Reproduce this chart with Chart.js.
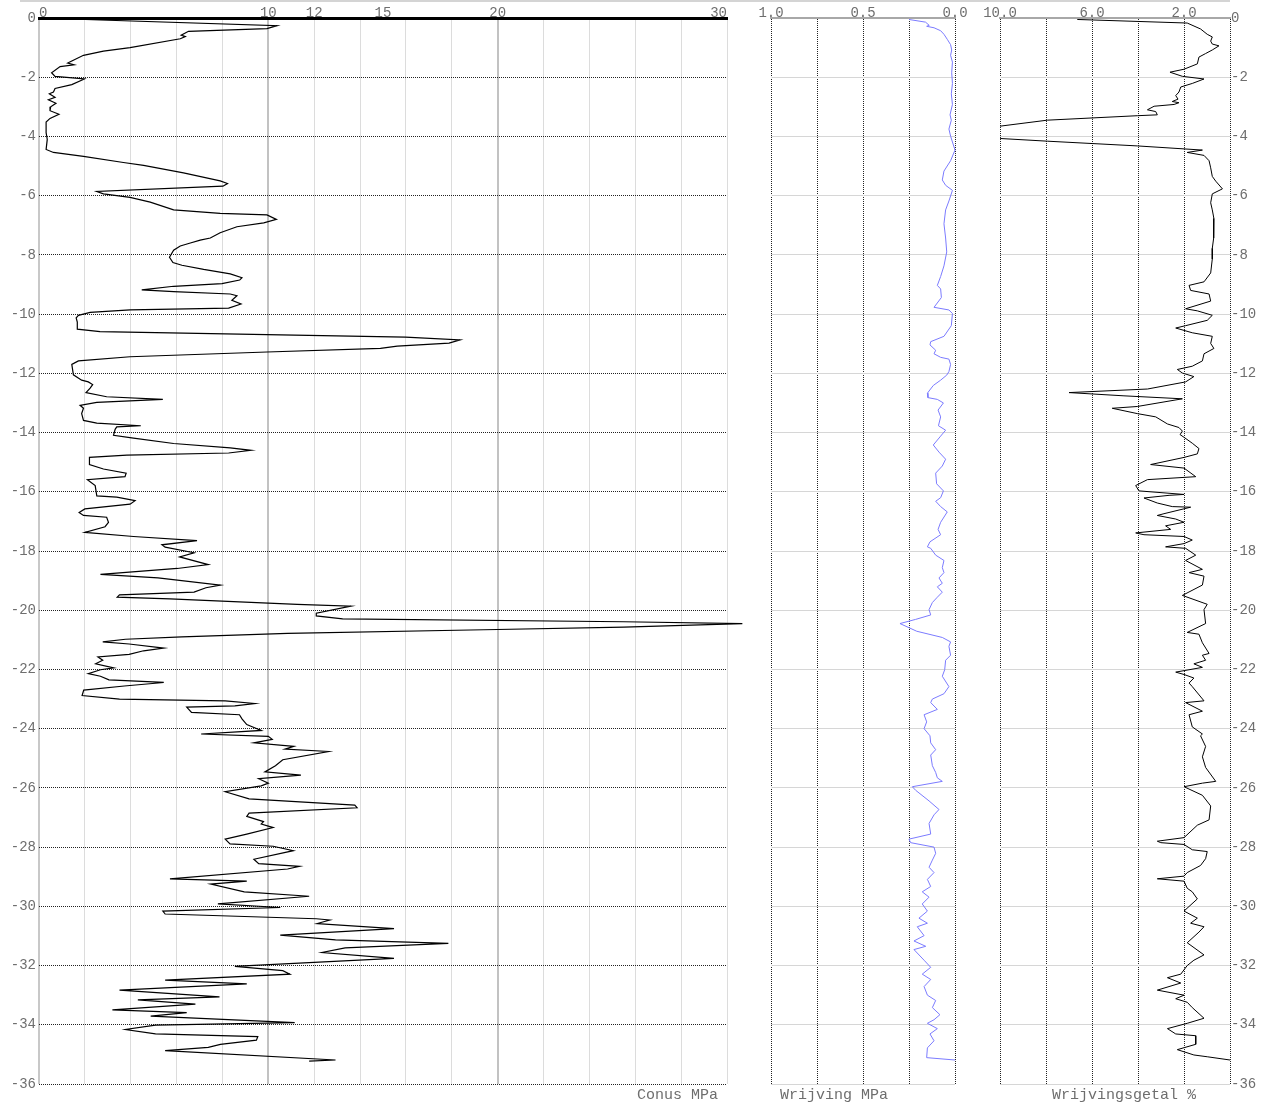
<!DOCTYPE html>
<html>
<head>
<meta charset="utf-8">
<title>Sondering</title>
<script src="https://cdn.jsdelivr.net/npm/chart.js@4.4.1/dist/chart.umd.min.js"></script>
<style>
    body { margin: 0; background: #fff; }
    #wrap { position: relative; width: 1268px; height: 1104px; }
    #wrap canvas { position: absolute; left: 0; top: 0; }
    #topline { position: absolute; left: 20px; top: 0; width: 1210px; border-top: 2px solid #d4d4d4; }
</style>
</head>
<body>
<div id="wrap">
    <div id="topline"></div>
    <canvas id="conus" width="1268" height="1104"></canvas>
    <canvas id="wrijving" width="1268" height="1104"></canvas>
    <canvas id="getal" width="1268" height="1104"></canvas>
</div>
<script>
// Depth ticks (m below surface, drawn downwards)
const depthTicks = [0, -2, -4, -6, -8, -10, -12, -14, -16, -18, -20, -22, -24, -26, -28, -30, -32, -34, -36];

// Conus (cone resistance, MPa)
const conusGrid = [0, 2, 4, 6, 8, 10, 12, 14, 15, 16, 18, 20, 22, 24, 26, 28, 30];
const conusLabels = [0, 10, 12, 15, 20, 30];
const conusDepth = [
    0, 0.26, 0.36, 0.45, 0.58, 0.63, 0.70, 1.0, 1.12, 1.26, 1.45, 1.52, 1.58, 1.64, 1.85, 1.97,
    2.06, 2.25, 2.38, 2.5, 2.56, 2.68, 2.76, 2.88, 3.0, 3.13, 3.25, 3.39, 3.51, 3.87, 4.1, 4.44,
    4.54, 4.67, 4.88, 4.98, 5.23, 5.5, 5.59, 5.68, 5.86, 5.94, 6.06, 6.22, 6.48, 6.6, 6.65, 6.8,
    6.92, 7.05, 7.25, 7.43, 7.5, 7.6, 7.7, 7.84, 8.08, 8.26, 8.35, 8.49, 8.64, 8.77, 8.85, 8.97,
    9.06, 9.18, 9.24, 9.32, 9.38, 9.53, 9.66, 9.80, 9.86, 9.94, 10.04, 10.13, 10.27, 10.51, 10.59, 10.69,
    10.78, 10.87, 10.98, 11.08, 11.16, 11.28, 11.44, 11.58, 11.70, 12.05, 12.23, 12.29, 12.38, 12.5, 12.65, 12.79,
    12.88, 12.98, 13.08, 13.18, 13.36, 13.59, 13.68, 13.77, 13.81, 13.89, 14.09, 14.19, 14.37, 14.52, 14.6, 14.69,
    14.76, 14.84, 15.08, 15.23, 15.37, 15.49, 15.59, 15.79, 16.14, 16.18, 16.30, 16.42, 16.58, 16.70, 16.8, 16.86,
    17.03, 17.18, 17.37, 17.51, 17.65, 17.79, 17.87, 18.06, 18.2, 18.46, 18.59, 18.79, 18.91, 19.15, 19.24, 19.39,
    19.48, 19.56, 19.62, 19.8, 19.86, 20.1, 20.19, 20.29, 20.39, 20.45, 20.57, 20.66, 20.78, 20.9, 20.98, 21.07,
    21.14, 21.28, 21.37, 21.49, 21.58, 21.69, 21.81, 21.95, 22.01, 22.14, 22.23, 22.35, 22.44, 22.56, 22.7, 22.88,
    23.0, 23.06, 23.15, 23.23, 23.27, 23.45, 23.53, 23.67, 23.86, 24.06, 24.18, 24.26, 24.36, 24.48, 24.6, 24.69,
    24.77, 25.05, 25.25, 25.46, 25.57, 25.69, 25.84, 25.93, 26.13, 26.37, 26.58, 26.67, 26.85, 26.96, 27.14, 27.22,
    27.34, 27.56, 27.73, 27.89, 27.97, 28.12, 28.41, 28.56, 28.65, 28.74, 29.07, 29.15, 29.25, 29.51, 29.66, 29.92,
    30.04, 30.16, 30.26, 30.42, 30.46, 30.58, 30.75, 30.97, 31.13, 31.25, 31.4, 31.56, 31.76, 32.0, 32.03, 32.17,
    32.29, 32.49, 32.62, 32.83, 33.06, 33.16, 33.3, 33.5, 33.59, 33.71, 33.93, 34.01, 34.16, 34.31, 34.4, 34.52,
    34.66, 34.76, 34.87, 35.19, 35.23
];
const conusValue = [
    0, 10.38, 9.94, 6.52, 6.2, 6.38, 6.16, 3.97, 2.81, 1.94, 1.43, 1.25, 1.53, 0.92, 0.55, 0.70,
    1.98, 1.43, 0.70, 0.63, 0.45, 0.70, 0.41, 0.74, 0.51, 0.48, 0.87, 0.48, 0.31, 0.31, 0.36, 0.31,
    0.63, 1.94, 3.68, 4.56, 6.3, 7.9, 8.22, 8.02, 2.52, 2.81, 3.97, 4.85, 5.87, 7.9, 9.94, 10.35,
    9.8, 8.63, 7.9, 7.47, 7.03, 6.6, 6.16, 5.87, 5.69, 5.84, 6.23, 7.18, 8.34, 8.85, 8.75, 7.98,
    5.87, 4.48, 5.87, 8.34, 8.63, 8.41, 8.81, 8.27, 3.97, 2.23, 1.72, 1.62, 1.67, 1.67, 2.66, 9.94,
    15.98, 18.36, 17.88, 15.62, 14.89, 9.94, 3.97, 1.72, 1.43, 1.5, 1.86, 2.15, 2.34, 2.23, 2.05, 2.95,
    5.4, 2.52, 1.79, 1.94, 1.86, 1.94, 2.52, 4.44, 3.39, 3.32, 3.25, 4.12, 5.87, 8.34, 9.24, 8.27,
    3.83, 2.2, 2.2, 2.81, 3.8, 3.75, 2.11, 2.45, 2.52, 3.39, 4.19, 3.97, 2.0, 1.75, 1.94, 2.95,
    3.03, 2.88, 2.0, 4.12, 6.89, 5.36, 5.5, 6.76, 6.13, 7.38, 6.03, 2.68, 5.19, 7.91, 7.28, 6.76,
    3.51, 3.41, 5.71, 11.26, 13.6, 12.09, 12.09, 13.24, 25.5, 30.67, 25.5, 19.4, 10.84, 6.23, 3.77, 2.78,
    3.93, 5.44, 4.56, 3.93, 2.57, 2.78, 2.47, 3.26, 2.68, 2.15, 2.68, 3.05, 5.44, 3.72, 1.95, 1.88,
    3.51, 8.12, 9.41, 8.54, 6.44, 6.65, 8.74, 8.85, 9.06, 9.69, 7.07, 10.0, 10.17, 9.37, 11.11, 10.73,
    12.62, 10.63, 10.31, 9.85, 11.42, 9.58, 10.0, 9.69, 8.12, 9.16, 13.77, 13.87, 9.16, 9.06, 9.79, 9.69,
    10.21, 9.06, 8.12, 8.33, 10.21, 11.09, 9.37, 9.58, 11.36, 10.84, 5.71, 9.06, 7.49, 8.95, 11.78, 7.8,
    10.52, 5.4, 5.5, 12.09, 12.68, 12.13, 15.48, 10.52, 12.93, 17.85, 13.35, 12.34, 15.48, 9.16, 8.54, 10.63,
    10.94, 5.5, 9.06, 3.51, 7.87, 4.31, 6.82, 3.2, 6.44, 4.87, 11.15, 5.08, 3.77, 5.08, 9.54, 9.48,
    7.91, 7.38, 5.5, 12.93, 11.78
];

// Wrijving (sleeve friction, MPa)
const wrijvingGrid = [0, 0.25, 0.5, 0.75, 1.0];
const wrijvingLabels = [0, 0.5, 1.0];
const wrijvingDepth = [
    0.05, 0.14, 0.25, 0.28, 0.33, 0.43, 0.55, 0.72, 0.9, 1.08, 1.26, 1.49, 1.85, 2.21, 2.56, 2.92,
    3.27, 3.45, 3.75, 3.99, 4.46, 4.82, 5.17, 5.47, 5.65, 5.82, 6.18, 6.48, 6.95, 7.43, 7.9, 8.37,
    8.73, 9.03, 9.15, 9.44, 9.77, 9.86, 9.98, 10.39, 10.75, 10.93, 11.04, 11.22, 11.34, 11.46, 11.52, 11.7,
    11.94, 12.06, 12.23, 12.41, 12.67, 12.82, 12.88, 13.0, 13.24, 13.47, 13.77, 13.92, 14.12, 14.42, 14.66, 14.9,
    15.13, 15.37, 15.73, 15.97, 16.2, 16.32, 16.5, 16.68, 17.03, 17.27, 17.45, 17.69, 17.86, 17.91, 18.14, 18.32,
    18.56, 18.73, 18.91, 19.09, 19.21, 19.39, 19.56, 19.74, 19.98, 20.16, 20.31, 20.45, 20.71, 20.92, 21.07, 21.22,
    21.52, 21.69, 22.01, 22.23, 22.58, 22.82, 23.0, 23.12, 23.35, 23.53, 23.77, 24.0, 24.24, 24.48, 24.71, 24.89,
    25.25, 25.48, 25.66, 25.78, 25.96, 26.08, 26.44, 26.73, 26.91, 27.2, 27.56, 27.73, 27.85, 28.0, 28.21, 28.44,
    28.68, 28.86, 29.09, 29.33, 29.51, 29.69, 29.92, 30.16, 30.4, 30.57, 30.69, 30.99, 31.17, 31.35, 31.46, 31.82,
    32.06, 32.29, 32.47, 32.71, 33.0, 33.18, 33.42, 33.66, 33.83, 33.95, 34.13, 34.31, 34.54, 34.78, 35.11, 35.19
];
const wrijvingValue = [
    0.25, 0.16, 0.14, 0.154, 0.114, 0.078, 0.06, 0.042, 0.024, 0.018, 0.024, 0.014, 0.018, 0.014, 0.02, 0.014,
    0.027, 0.02, 0.033, 0.024, 0.0, 0.024, 0.06, 0.069, 0.051, 0.014, 0.033, 0.051, 0.06, 0.051, 0.045, 0.06,
    0.078, 0.096, 0.078, 0.074, 0.114, 0.033, 0.014, 0.02, 0.06, 0.132, 0.136, 0.105, 0.114, 0.078, 0.033, 0.024,
    0.033, 0.045, 0.078, 0.118, 0.15, 0.147, 0.096, 0.063, 0.092, 0.078, 0.09, 0.051, 0.078, 0.118, 0.087, 0.051,
    0.069, 0.105, 0.1, 0.063, 0.078, 0.105, 0.078, 0.042, 0.078, 0.092, 0.078, 0.136, 0.15, 0.132, 0.105, 0.06,
    0.069, 0.06, 0.087, 0.069, 0.096, 0.069, 0.096, 0.123, 0.141, 0.132, 0.214, 0.299, 0.208, 0.069, 0.024, 0.033,
    0.024, 0.051, 0.056, 0.069, 0.033, 0.06, 0.123, 0.132, 0.096, 0.168, 0.154, 0.168, 0.136, 0.132, 0.105, 0.132,
    0.123, 0.105, 0.096, 0.069, 0.232, 0.214, 0.141, 0.087, 0.114, 0.141, 0.132, 0.25, 0.241, 0.114, 0.105, 0.123,
    0.141, 0.114, 0.15, 0.132, 0.178, 0.141, 0.178, 0.15, 0.196, 0.15, 0.205, 0.168, 0.223, 0.159, 0.223, 0.168,
    0.132, 0.178, 0.132, 0.168, 0.15, 0.105, 0.123, 0.082, 0.114, 0.15, 0.096, 0.136, 0.114, 0.15, 0.154, 0.0
];

// Wrijvingsgetal (friction ratio, %); near 3.9 m the value runs off the 10 % scale
const getalGrid = [0, 2, 4, 6, 8, 10];
const getalLabels = [2, 6, 10];
const getalDepth = [
    0.05, 0.17, 0.37, 0.55, 0.64, 0.78, 0.88, 0.94, 1.08, 1.2, 1.32, 1.55, 1.73, 1.83, 1.97, 2.06,
    2.21, 2.33, 2.5, 2.62, 2.74, 2.82, 2.86, 2.92, 2.98, 3.1, 3.16, 3.27, 3.3, 3.45, 3.65, 3.86, 4.07,
    4.16, 4.32, 4.46, 4.54, 4.64, 4.82, 5.06, 5.35, 5.51, 5.77, 5.94, 6.24, 6.48, 6.77, 7.07, 7.43,
    7.78, 8.14, 8.61, 8.91, 9.03, 9.2, 9.32, 9.56, 9.82, 9.89, 10.04, 10.21, 10.39, 10.47, 10.63, 10.75,
    10.99, 11.16, 11.34, 11.58, 11.76, 11.87, 11.99, 12.11, 12.29, 12.53, 12.65, 12.76, 12.86, 13.12, 13.18, 13.36,
    13.47, 13.71, 13.83, 13.95, 14.07, 14.16, 14.36, 14.54, 14.72, 14.84, 15.08, 15.2, 15.49, 15.59, 15.79, 15.97,
    16.09, 16.12, 16.21, 16.38, 16.5, 16.52, 16.74, 16.8, 16.92, 17.03, 17.15, 17.27, 17.39, 17.45, 17.51, 17.63,
    17.75, 17.86, 17.91, 18.14, 18.32, 18.62, 18.73, 18.85, 19.15, 19.5, 19.8, 19.98, 20.45, 20.75, 20.81, 21.1,
    21.46, 21.52, 21.69, 21.81, 21.93, 22.09, 22.17, 22.29, 22.46, 22.58, 23.06, 23.12, 23.41, 23.53, 23.94, 24.18,
    24.24, 24.6, 24.95, 25.31, 25.78, 25.84, 25.96, 26.25, 26.61, 27.08, 27.26, 27.68, 27.8, 27.85, 27.91, 28.09,
    28.15, 28.39, 28.62, 28.86, 28.98, 29.07, 29.15, 29.39, 29.51, 29.75, 30.16, 30.4, 30.57, 30.69, 30.87, 31.23,
    31.64, 31.82, 32.0, 32.29, 32.41, 32.59, 32.83, 33.0, 33.12, 33.24, 33.42, 33.78, 33.95, 34.13, 34.31, 34.37,
    34.66, 34.84, 35.02, 35.08, 35.19
];
const getalValue = [
    6.64, 1.86, 1.28, 0.99, 0.77, 0.84, 0.77, 0.48, 0.77, 1.06, 1.35, 1.42, 2.0, 2.61, 2.07, 1.13,
    1.64, 2.14, 2.22, 2.36, 2.26, 2.51, 2.22, 2.43, 3.3, 3.59, 3.23, 3.16, 4.03, 7.94, 9.97, 20.0, 9.97,
    7.94, 4.03, 1.2, 1.86, 1.13, 0.91, 0.84, 0.77, 0.62, 0.33, 0.77, 0.84, 0.77, 0.7, 0.72, 0.7,
    0.77, 0.77, 0.84, 1.13, 1.78, 1.71, 0.91, 0.84, 1.93, 1.42, 0.77, 0.99, 1.93, 2.36, 1.64, 0.77,
    0.84, 0.7, 1.13, 1.2, 1.64, 2.29, 2.07, 1.57, 1.93, 3.59, 7.0, 4.61, 2.07, 4.03, 5.12, 4.03,
    3.23, 2.72, 2.22, 2.07, 2.17, 2.0, 1.64, 1.35, 1.42, 2.0, 3.45, 2.0, 1.49, 3.59, 4.1, 3.96,
    2.0, 2.65, 3.74, 3.16, 2.51, 1.71, 2.87, 3.16, 2.36, 2.0, 2.8, 2.58, 4.1, 3.74, 2.0, 1.64,
    2.0, 2.8, 1.93, 1.49, 1.93, 1.2, 1.78, 1.13, 1.2, 2.07, 0.99, 1.13, 1.06, 1.86, 1.35, 1.2,
    0.91, 1.2, 1.06, 1.57, 1.2, 2.36, 2.0, 1.57, 1.78, 1.64, 1.13, 1.93, 1.2, 1.78, 1.64, 1.2,
    1.28, 1.06, 1.2, 1.06, 0.62, 1.2, 2.0, 1.2, 0.84, 0.91, 1.42, 2.0, 3.16, 3.01, 2.0, 1.64,
    0.99, 1.06, 1.28, 1.86, 2.0, 3.16, 2.0, 1.86, 1.64, 1.42, 2.0, 1.42, 1.71, 1.13, 1.35, 1.86,
    1.13, 1.57, 1.86, 2.14, 2.72, 2.14, 3.16, 2.0, 2.36, 1.86, 1.64, 1.13, 1.86, 2.72, 2.36, 1.49,
    1.49, 2.29, 1.57, 0.99, 0.0
];

const TICK_FONT = { family: "'Liberation Mono', 'DejaVu Sans Mono', monospace", size: 14 };
const TITLE_FONT = { family: "'Liberation Mono', 'DejaVu Sans Mono', monospace", size: 15 };
const TEXT_COLOR = '#6e6e6e';
const W = 1268;

// depth goes downwards, so plot it as negative y
function toPoints(depths, values) {
    return depths.map((d, i) => ({ x: values[i], y: -d }));
}

function fixWidth(w) { return scale => { scale.width = w; }; }
function fixHeight(h) { return scale => { scale.height = h; }; }
function useTicks(list) { return scale => { scale.ticks = list.map(v => ({ value: v })); }; }

// bottom axis that only carries the panel title
function titleAxis(text, align) {
    return {
        type: 'linear', position: 'bottom', min: 0, max: 1,
        afterFit: fixHeight(20),
        ticks: { display: false },
        grid: { display: false },
        border: { display: false },
        title: { display: true, text: text, align: align, font: TITLE_FONT, color: TEXT_COLOR, padding: { top: 0, bottom: 0 } }
    };
}

function topAxis(min, max, reverse, grid, labels, digits) {
    return {
        type: 'linear', position: 'top', min: min, max: max, reverse: reverse,
        afterBuildTicks: useTicks(grid),
        afterFit: fixHeight(18),
        ticks: {
            autoSkip: false, maxRotation: 0, padding: -4, font: TICK_FONT, color: TEXT_COLOR,
            callback: v => labels.includes(v) ? v.toFixed(digits) : ''
        },
        grid: { drawTicks: false, color: '#222', lineWidth: 1 },
        border: { display: true, color: '#a8a8a8', width: 2, dash: [1, 1] }
    };
}

function depthAxis(position, width, showLabels, gridColor, dash) {
    return {
        type: 'linear', position: position, min: -36, max: 0,
        afterBuildTicks: useTicks(depthTicks),
        afterFit: fixWidth(width),
        ticks: { display: showLabels, autoSkip: false, padding: position === 'left' ? 3 : 1, font: TICK_FONT, color: TEXT_COLOR },
        grid: { drawTicks: false, color: gridColor, lineWidth: 1 },
        border: { display: false, dash: dash }
    };
}

function profile(data, color, width, clip) {
    return {
        data: data, showLine: true, borderColor: color, borderWidth: width,
        pointRadius: 0, tension: 0, clip: clip
    };
}

const baseOptions = {
    responsive: false,
    animation: false,
    events: [],
    plugins: { legend: { display: false }, tooltip: { enabled: false } }
};

// Conus panel
const conusX = topAxis(0, 30, false, conusGrid, conusLabels, 0);
conusX.ticks.align = 'inner'; // keep the "0" clear of the depth label in the corner
conusX.grid = {
    drawTicks: false,
    color: c => {
        const v = c.tick.value;
        if (v === 15) return 'rgba(0,0,0,0)';
        if (v === 10 || v === 20) return '#c2c2c2';
        if (v === 0) return '#c8c8c8';
        return '#dcdcdc';
    },
    lineWidth: c => (c.tick.value === 10 || c.tick.value === 20 || c.tick.value === 0) ? 2 : 1
};
conusX.border = { display: true, color: '#000', width: 3 };

new Chart(document.getElementById('conus'), {
    type: 'scatter',
    data: { datasets: [profile(toPoints(conusDepth, conusValue), '#000', 1.2, false)] },
    options: {
        ...baseOptions,
        layout: { padding: { left: 0, right: W - 727, top: 0, bottom: 0 } },
        scales: {
            x: conusX,
            xt: titleAxis('Conus MPa ', 'end'),
            y: depthAxis('left', 39, true, '#222', [1, 1])
        }
    }
});

// Wrijving panel
new Chart(document.getElementById('wrijving'), {
    type: 'scatter',
    data: { datasets: [profile(toPoints(wrijvingDepth, wrijvingValue), '#7b7bff', 1, false)] },
    options: {
        ...baseOptions,
        layout: { padding: { left: 771, right: W - 955, top: 0, bottom: 0 } },
        scales: {
            x: topAxis(0, 1, true, wrijvingGrid, wrijvingLabels, 1),
            xt: titleAxis(' Wrijving MPa', 'start'),
            y: depthAxis('left', 0, false, '#d6d6d6', [])
        }
    }
});

// Wrijvingsgetal panel
new Chart(document.getElementById('getal'), {
    type: 'scatter',
    data: { datasets: [profile(toPoints(getalDepth, getalValue), '#000', 1, true)] },
    options: {
        ...baseOptions,
        layout: { padding: { left: 1000, right: 0, top: 0, bottom: 0 } },
        scales: {
            x: topAxis(0, 10, true, getalGrid, getalLabels, 1),
            xt: titleAxis('  Wrijvingsgetal %', 'center'),
            y: depthAxis('right', 38, true, '#d6d6d6', [])
        }
    }
});
</script>
</body>
</html>
